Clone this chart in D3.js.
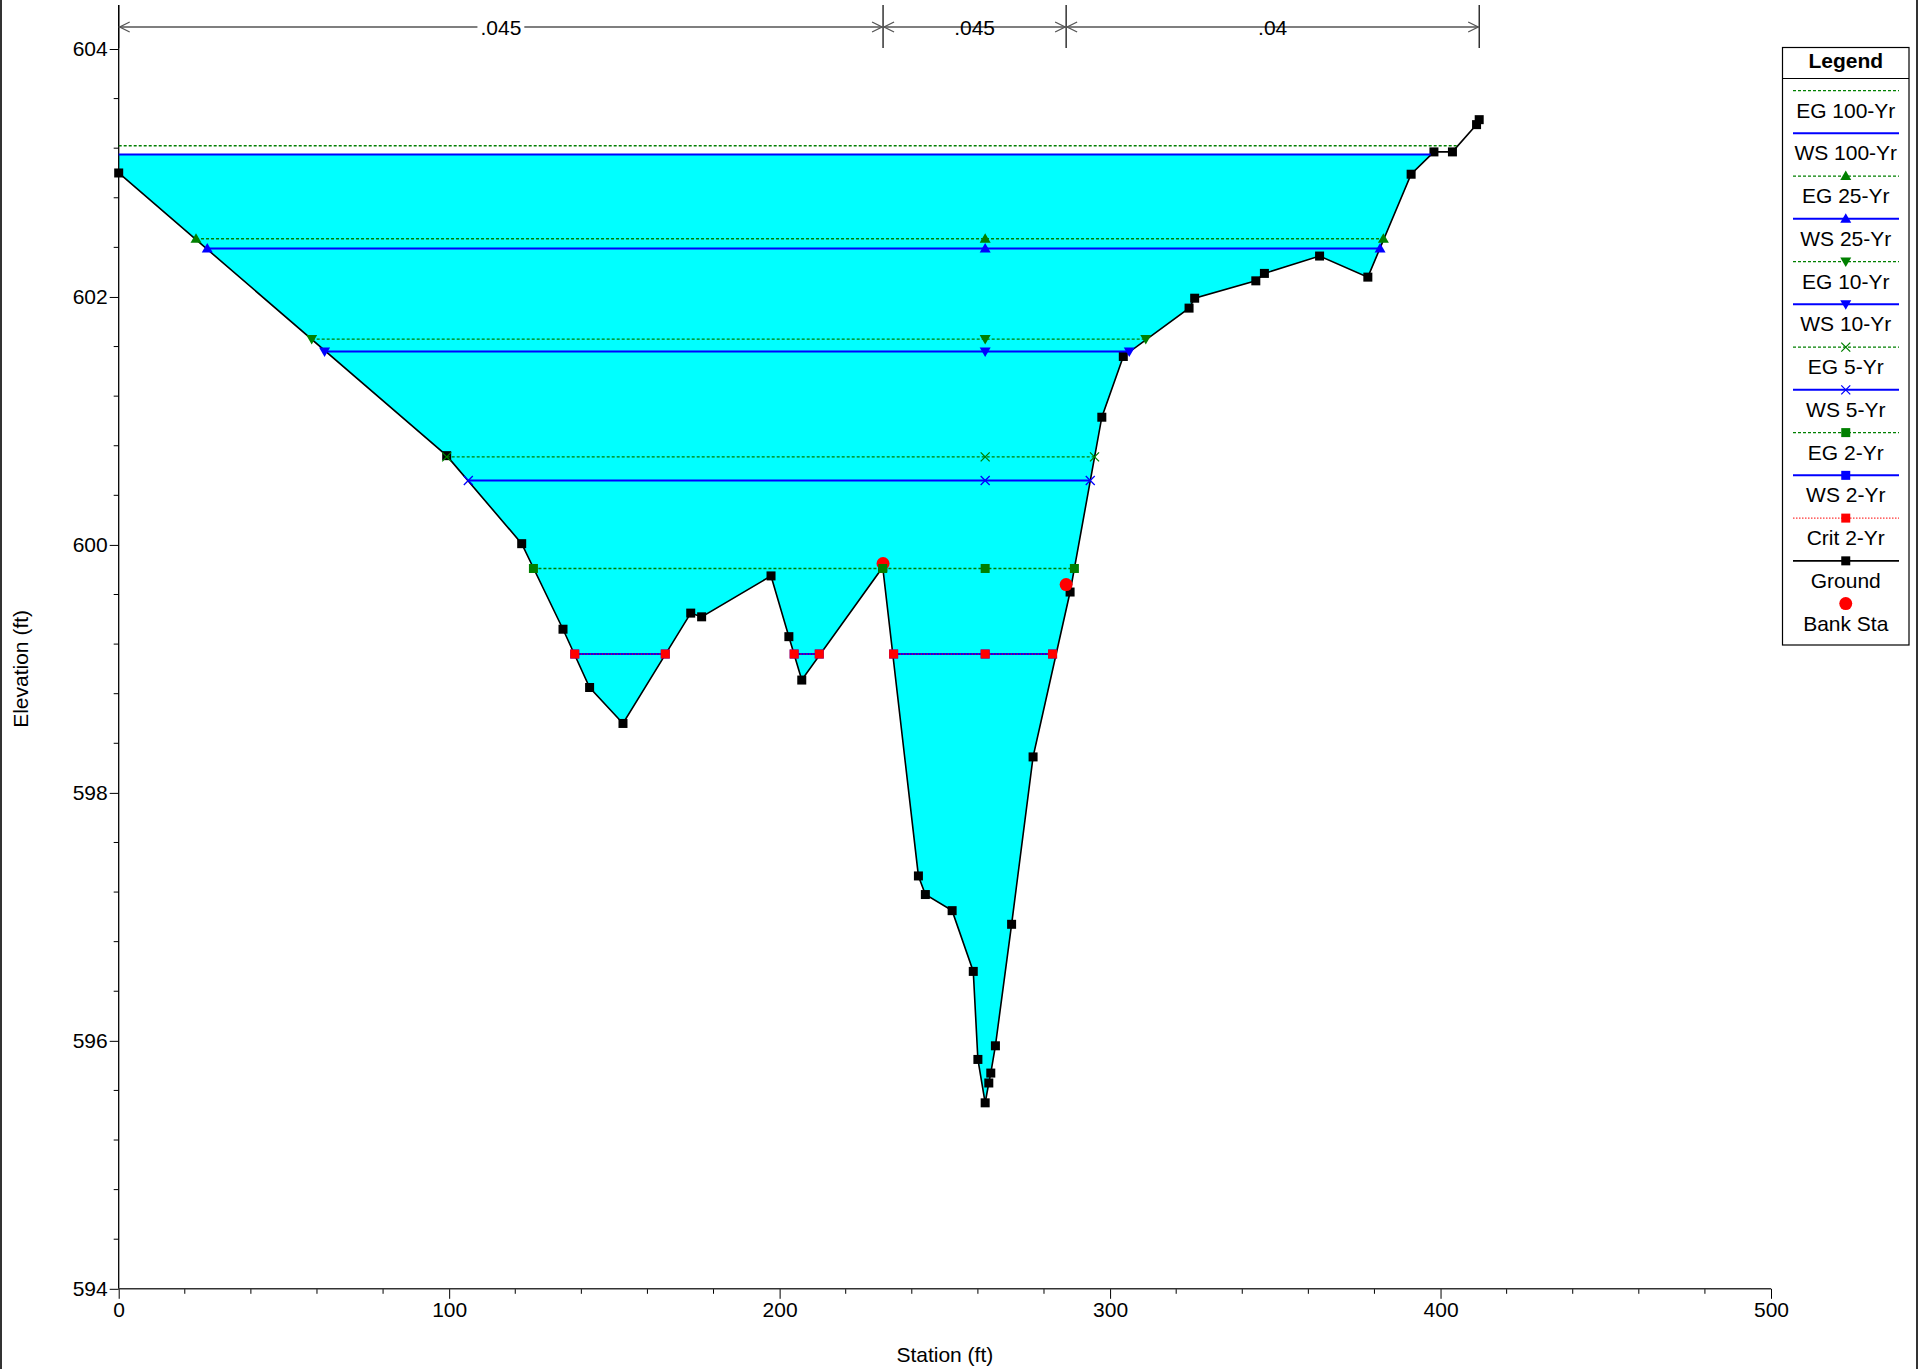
<!DOCTYPE html>
<html><head><meta charset="utf-8">
<script src="https://cdn.jsdelivr.net/npm/d3@7"></script>
<style>
body{margin:0;background:#fff}
svg{display:block}
text{font-family:"Liberation Sans",Arial,Helvetica,sans-serif;fill:#000}
</style>
</head><body>
<svg id="chart" width="1919" height="1369"></svg>
<script>
// ---------------- DATA ----------------
const groundStation = [0, 99.25, 121.95, 134.45, 142.5, 152.6, 173.1, 176.4, 197.4, 202.8, 206.7, 231.2, 242.0, 244.1, 252.2, 258.6, 260.0, 262.2, 263.3, 263.9, 265.3, 270.2, 276.7, 287.9, 297.5, 304.0, 323.9, 325.6, 344.1, 346.7, 363.4, 378.0, 391.1, 398.0, 403.6, 410.9, 411.7];
const groundElev = [603.0, 600.72, 600.01, 599.32, 598.85, 598.56, 599.45, 599.42, 599.75, 599.26, 598.91, 599.82, 597.33, 597.18, 597.05, 596.56, 595.85, 595.50, 595.66, 595.74, 595.96, 596.94, 598.29, 599.62, 601.03, 601.52, 601.91, 601.99, 602.13, 602.19, 602.33, 602.16, 602.99, 603.17, 603.17, 603.39, 603.43];

const bankStation = [231.3, 286.7];
const bankElev = [599.85, 599.68];

const nBreaks = [0, 231.3, 286.7, 411.7];
const nValues = [".045", ".045", ".04"];

const profileNames = ["EG 100-Yr", "WS 100-Yr", "EG 25-Yr", "WS 25-Yr", "EG 10-Yr", "WS 10-Yr", "EG 5-Yr", "WS 5-Yr", "EG 2-Yr", "WS 2-Yr", "Crit 2-Yr"];
const profileElev = [603.22, 603.15, 602.47, 602.39, 601.66, 601.56, 600.71, 600.52, 599.81, 599.12, 599.12];
const profileSegments = [
  [[0, 405.3]],
  [[0, 397.0]],
  [[23.4, 382.7]],
  [[26.8, 381.7]],
  [[58.4, 310.8]],
  [[62.3, 305.8]],
  [[99.25, 295.3]],
  [[105.8, 294.0]],
  [[125.5, 289.2]],
  [[138.0, 165.4], [204.4, 212.0], [234.5, 282.6]],
  [[138.0, 165.4], [204.4, 212.0], [234.5, 282.6]]
];
const profileMarkers = [
  [],
  [],
  [23.4, 262.2, 382.7],
  [26.8, 262.2, 381.7],
  [58.4, 262.2, 310.8],
  [62.3, 262.2, 305.8],
  [99.25, 262.2, 295.3],
  [105.8, 262.2, 294.0],
  [125.5, 231.2, 262.2, 289.2],
  [138.0, 165.4, 204.4, 212.0, 234.5, 262.2, 282.6],
  [138.0, 165.4, 204.4, 212.0, 234.5, 262.2, 282.6]
];
const legendNames = profileNames.concat(["Ground", "Bank Sta"]);

const xTicks = [0, 100, 200, 300, 400, 500];
const yTicks = [594, 596, 598, 600, 602, 604];
const xLabel = "Station (ft)";
const yLabel = "Elevation (ft)";

// ---------------- STYLES ----------------
const BLUE = "#0000ff", GREEN = "#008000", RED = "#ff0000";
function styleFor(name) {
  if (name.startsWith("EG")) return {color: GREEN, width: 1.4, dash: "3,2", mcolor: GREEN};
  if (name.startsWith("WS")) return {color: BLUE, width: 2, dash: null, mcolor: BLUE};
  return {color: RED, width: 1, dash: "1.5,1.5", mcolor: RED};
}
function shapeFor(name) {
  if (name.includes("100")) return null;
  if (name.includes("25")) return "up";
  if (name.includes("10")) return "down";
  if (name.includes("5-")) return "x";
  return "square";
}

// ---------------- SCALES ----------------
const svg = d3.select("#chart");
const x = d3.scaleLinear().domain([0, 500]).range([118.7, 1771]);
const y = d3.scaleLinear().domain([594, 604]).range([1288.8, 49]);
const yTop = 604.355;

function drawMarker(g, shape, cx, cy, color) {
  if (!shape) return;
  if (shape === "square") {
    g.append("rect").attr("x", cx - 4.5).attr("y", cy - 4.5).attr("width", 9).attr("height", 9).attr("fill", color);
  } else if (shape === "up") {
    g.append("path").attr("d", `M${cx},${cy - 5.5}L${cx + 5.5},${cy + 4}L${cx - 5.5},${cy + 4}Z`).attr("fill", color);
  } else if (shape === "down") {
    g.append("path").attr("d", `M${cx},${cy + 5.5}L${cx + 5.5},${cy - 4}L${cx - 5.5},${cy - 4}Z`).attr("fill", color);
  } else if (shape === "x") {
    g.append("path").attr("d", `M${cx - 4.5},${cy - 4.5}L${cx + 4.5},${cy + 4.5}M${cx - 4.5},${cy + 4.5}L${cx + 4.5},${cy - 4.5}`)
      .attr("stroke", color).attr("stroke-width", 1.3).attr("fill", "none");
  }
}

// frame edges
svg.append("line").attr("x1", 1).attr("x2", 1).attr("y1", 0).attr("y2", 1369).attr("stroke", "#333").attr("stroke-width", 2);
svg.append("line").attr("x1", 1917).attr("x2", 1917).attr("y1", 0).attr("y2", 1369).attr("stroke", "#333").attr("stroke-width", 2);

// ---------------- WATER FILL ----------------
const ground = groundStation.map((s, i) => [s, groundElev[i]]);
const ws100 = profileElev[1];
svg.append("clipPath").attr("id", "wclip").append("rect")
  .attr("x", x(0)).attr("y", y(ws100)).attr("width", x(500) - x(0)).attr("height", y(594) - y(ws100));
const abovePoly = ground.map(p => [x(p[0]), y(p[1])])
  .concat([[x(groundStation[groundStation.length - 1]), y(yTop)], [x(0), y(yTop)]]);
svg.append("path").attr("d", "M" + abovePoly.join("L") + "Z")
  .attr("fill", "#00ffff").attr("clip-path", "url(#wclip)");

// ---------------- AXES ----------------
const axG = svg.append("g");
// y axis
const yAxis = axG.append("g").attr("transform", `translate(${x(0)},0)`);
yAxis.call(d3.axisLeft(y).tickValues(yTicks).tickSize(9).tickPadding(2).tickFormat(d3.format("d")));
const yMinor = d3.range(594, 604.4, 0.4).filter(v => Math.abs((v - 594) / 2 - Math.round((v - 594) / 2)) > 0.01);
yAxis.selectAll(".minor").data(yMinor).enter().append("line").attr("class", "minor")
  .attr("x1", -5).attr("x2", 0).attr("y1", d => y(d)).attr("y2", d => y(d)).attr("stroke", "#000");
// x axis
const xAxis = axG.append("g").attr("transform", `translate(0,${y(594)})`);
xAxis.call(d3.axisBottom(x).tickValues(xTicks).tickSize(10).tickPadding(3).tickFormat(d3.format("d")));
const xMinor = d3.range(20, 500, 20).filter(v => v % 100 !== 0);
xAxis.selectAll(".minor").data(xMinor).enter().append("line").attr("class", "minor")
  .attr("y1", 0).attr("y2", 5).attr("x1", d => x(d)).attr("x2", d => x(d)).attr("stroke", "#000");
axG.selectAll(".domain").remove();
axG.selectAll(".tick line").attr("stroke", "#000");
axG.selectAll(".tick text").style("font-size", "21px").attr("fill", "#000");
axG.append("line").attr("x1", x(0)).attr("x2", x(0)).attr("y1", y(594)).attr("y2", y(yTop)).attr("stroke", "#000").attr("stroke-width", 1.3);
axG.append("line").attr("x1", x(0)).attr("x2", x(500)).attr("y1", y(594)).attr("y2", y(594)).attr("stroke", "#333").attr("stroke-width", 1.6);

svg.append("text").attr("x", (x(0) + x(500)) / 2).attr("y", 1362).attr("text-anchor", "middle").style("font-size", "21px").text(xLabel);
svg.append("text").attr("transform", `translate(28,${(y(594) + y(604)) / 2}) rotate(-90)`).attr("text-anchor", "middle").style("font-size", "21px").text(yLabel);

// ---------------- MANNING'S N ----------------
const nG = svg.append("g");
const arrowY = 27;
nBreaks.forEach(b => {
  nG.append("line").attr("x1", x(b)).attr("x2", x(b)).attr("y1", 5).attr("y2", 48).attr("stroke", "#000").attr("stroke-width", 1.2);
});
nValues.forEach((v, i) => {
  const x1 = x(nBreaks[i]), x2 = x(nBreaks[i + 1]);
  nG.append("line").attr("x1", x1).attr("x2", x2).attr("y1", arrowY).attr("y2", arrowY).attr("stroke", "#555").attr("stroke-width", 1.6);
  nG.append("path").attr("d", `M${x1 + 11},${arrowY - 5}L${x1 + 1},${arrowY}L${x1 + 11},${arrowY + 5}`).attr("stroke", "#555").attr("stroke-width", 1.3).attr("fill", "none");
  nG.append("path").attr("d", `M${x2 - 11},${arrowY - 5}L${x2 - 1},${arrowY}L${x2 - 11},${arrowY + 5}`).attr("stroke", "#555").attr("stroke-width", 1.3).attr("fill", "none");
  const cx = (x1 + x2) / 2;
  const t = nG.append("text").attr("x", cx).attr("y", arrowY + 7.5).attr("text-anchor", "middle").style("font-size", "21px").text(v);
  const bb = t.node().getBBox();
  nG.insert("rect", "text").attr("x", bb.x - 3).attr("y", arrowY - 3).attr("width", bb.width + 6).attr("height", 6).attr("fill", "#fff");
});

// ---------------- GROUND ----------------
const line = d3.line().x(d => x(d[0])).y(d => y(d[1]));
svg.append("path").attr("d", line(ground)).attr("fill", "none").attr("stroke", "#000").attr("stroke-width", 1.6);
const gm = svg.append("g");
ground.forEach(p => drawMarker(gm, "square", x(p[0]), y(p[1]), "#000"));

// bank stations
bankStation.forEach((s, i) => {
  svg.append("circle").attr("cx", x(s)).attr("cy", y(bankElev[i])).attr("r", 6.5).attr("fill", RED);
});

// ---------------- PROFILES ----------------
profileNames.forEach((name, i) => {
  const st = styleFor(name);
  const g = svg.append("g");
  profileSegments[i].forEach(seg => {
    g.append("line").attr("x1", x(seg[0])).attr("x2", x(seg[1]))
      .attr("y1", y(profileElev[i])).attr("y2", y(profileElev[i]))
      .attr("stroke", st.color).attr("stroke-width", st.width)
      .attr("stroke-dasharray", st.dash);
  });
  profileMarkers[i].forEach(s => drawMarker(g, shapeFor(name), x(s), y(profileElev[i]), st.mcolor));
});

// ---------------- LEGEND ----------------
const lg = svg.append("g");
const L = {x0: 1782.5, x1: 1909, y0: 47.5, y1: 645};
lg.append("rect").attr("x", L.x0).attr("y", L.y0).attr("width", L.x1 - L.x0).attr("height", L.y1 - L.y0)
  .attr("fill", "#fff").attr("stroke", "#000").attr("stroke-width", 1.2);
lg.append("line").attr("x1", L.x0).attr("x2", L.x1).attr("y1", 78.5).attr("y2", 78.5).attr("stroke", "#000").attr("stroke-width", 1.2);
const lcx = (L.x0 + L.x1) / 2;
lg.append("text").attr("x", lcx).attr("y", 68).attr("text-anchor", "middle").style("font-size", "21px").style("font-weight", "bold").text("Legend");
legendNames.forEach((name, i) => {
  const ly = 90.6 + 42.75 * i;
  const g = lg.append("g");
  if (i < profileNames.length) {
    const st = styleFor(name);
    g.append("line").attr("x1", 1793).attr("x2", 1899).attr("y1", ly).attr("y2", ly)
      .attr("stroke", st.color).attr("stroke-width", name.startsWith("WS") ? 2 : st.width).attr("stroke-dasharray", st.dash);
    drawMarker(g, shapeFor(name), lcx, ly, st.mcolor);
  } else if (name === "Ground") {
    g.append("line").attr("x1", 1793).attr("x2", 1899).attr("y1", ly).attr("y2", ly).attr("stroke", "#000").attr("stroke-width", 1.6);
    drawMarker(g, "square", lcx, ly, "#000");
  } else {
    g.append("circle").attr("cx", lcx).attr("cy", ly).attr("r", 6.5).attr("fill", RED);
  }
  g.append("text").attr("x", lcx).attr("y", ly + 27).attr("text-anchor", "middle").style("font-size", "21px").text(name);
});
</script>
</body></html>
